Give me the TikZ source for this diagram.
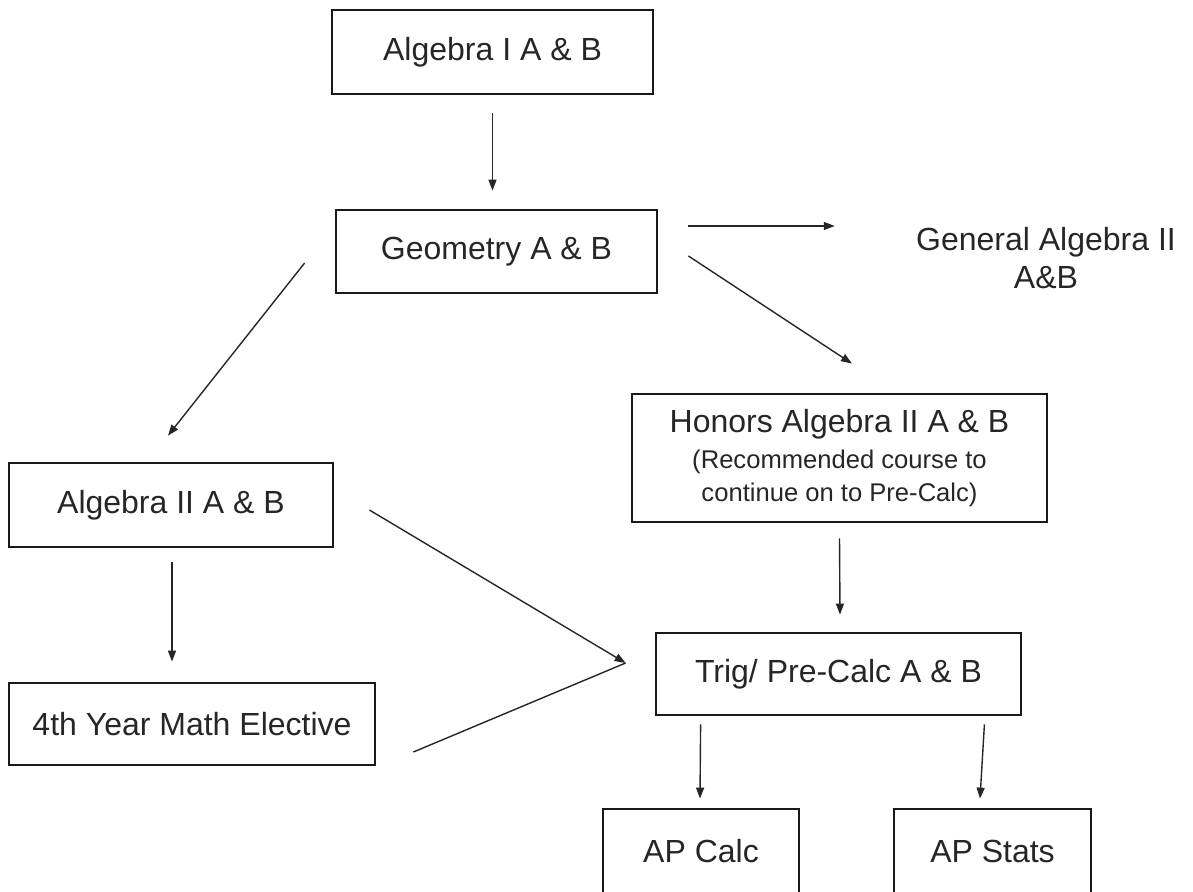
\documentclass[tikz,border=0pt]{standalone}
\usepackage{fontspec}
\setmainfont{Liberation Sans}
\usetikzlibrary{
    positioning,
    arrows.meta,
    calc
}

\begin{document}
\begin{tikzpicture}[x=0.5pt,y=-0.5pt,
		course/.style={draw=black!90,line width=1.4pt,inner sep=0pt,align=center,text=black!85,font=\fontsize{16}{19}\selectfont},
		arr/.style={line width=0.7pt,black!85,-{Triangle[length=5.5pt,width=4pt]}}]
		\useasboundingbox (0,0) rectangle (1193,892);
		\clip (0,0) rectangle (1193,892);
		\node[course,minimum width=160.5pt,minimum height=42pt] (alg1) at (492.5,52) {Algebra I A \& B};
		\node[course,minimum width=160.5pt,minimum height=41.5pt] (geom) at (496.5,251.5) {Geometry A \& B};
		\node[course,draw=none] (genalg) at (1046,258) {General Algebra II\\A\&B};
		\node[course,minimum width=207.5pt,minimum height=64pt] (honors) at (839.5,458) {Honors Algebra II A \& B\\[-1pt]{\fontsize{12.8}{15.5}\selectfont (Recommended course to}\\[-2.5pt]{\fontsize{12.8}{15.5}\selectfont continue on to Pre-Calc)}};
		\node[course,minimum width=162pt,minimum height=42pt] (alg2) at (171,505) {Algebra II A \& B};
		\node[course,minimum width=183pt,minimum height=41pt] (elective) at (192,724) {4th Year Math Elective};
		\node[course,minimum width=182.5pt,minimum height=41pt] (trig) at (838.5,674) {Trig/ Pre-Calc A \& B};
		\node[course,minimum width=98pt,minimum height=42.5pt] (apcalc) at (701,851.5) {AP Calc};
		\node[course,minimum width=98.5pt,minimum height=42.5pt] (apstats) at (992.5,851.5) {AP Stats};
		\coordinate (merge) at ([xshift=-14.5pt,yshift=5.5pt]trig.west);
		\draw[arr] ([yshift=-9pt]alg1.south) -- ([xshift=-2pt,yshift=9pt]geom.north);
		\draw[arr] ([xshift=15pt,yshift=12.75pt]geom.east) -- ([xshift=-40pt,yshift=16pt]genalg.west);
		\draw[arr] ([xshift=-15pt,yshift=-5.75pt]geom.west) -- ([xshift=-1.5pt,yshift=13pt]alg2.north);
		\draw[arr] ([xshift=15pt,yshift=-2.25pt]geom.east) -- ([xshift=6.25pt,yshift=14.5pt]honors.north);
		\draw[arr] ([yshift=-7.5pt]honors.south) -- ([xshift=0.75pt,yshift=8.5pt]trig.north);
		\draw[arr] ([xshift=0.5pt,yshift=-7pt]alg2.south) -- ([xshift=-10pt,yshift=10pt]elective.north);
		\draw[arr] ([xshift=17.5pt,yshift=-2.5pt]alg2.east) -- (merge);
		\draw[line width=0.7pt,black!85] ([xshift=18.5pt,yshift=-14pt]elective.east) -- (merge);
		\draw[arr] ([xshift=23pt,yshift=-4pt]trig.south west) -- ([xshift=-0.5pt,yshift=4.5pt]apcalc.north);
		\draw[arr] ([xshift=-19pt,yshift=-4pt]trig.south east) -- ([xshift=-6.25pt,yshift=4.5pt]apstats.north);
	\end{tikzpicture}
\end{document}
